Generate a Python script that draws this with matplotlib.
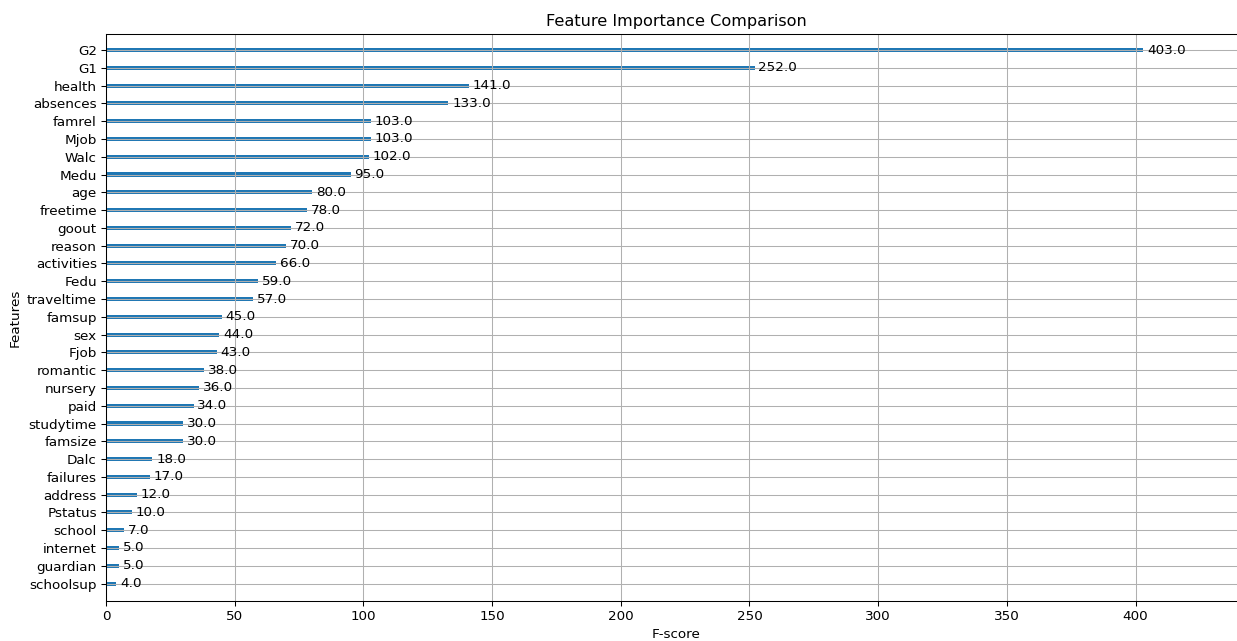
import matplotlib
matplotlib.use("Agg")
import matplotlib.pyplot as plt
import numpy as np

# Feature names and their F-scores (ascending order, bottom to top)
features = ["schoolsup", "guardian", "internet", "school", "Pstatus", "address",
            "failures", "Dalc", "famsize", "studytime", "paid", "nursery",
            "romantic", "Fjob", "sex", "famsup", "traveltime", "Fedu",
            "activities", "reason", "goout", "freetime", "age", "Medu",
            "Walc", "Mjob", "famrel", "absences", "health", "G1", "G2"]
scores = [4.0, 5.0, 5.0, 7.0, 10.0, 12.0, 17.0, 18.0, 30.0, 30.0, 34.0, 36.0,
          38.0, 43.0, 44.0, 45.0, 57.0, 59.0, 66.0, 70.0, 72.0, 78.0, 80.0, 95.0,
          102.0, 103.0, 103.0, 133.0, 141.0, 252.0, 403.0]

DPI = 94
W, H = 1237, 641
FS = 10.3
fig = plt.figure(figsize=(W / DPI, H / DPI), dpi=DPI)
ax = fig.add_axes([106 / W, 1 - 601 / H, (1247 - 106) / W, (601 - 34) / H])

ylocs = np.arange(len(features))
ax.barh(ylocs, scores, height=0.23, align="center", color="#1f77b4")
for x, y in zip(scores, ylocs):
    ax.text(x + 1.5, y, f"{x:.1f}", va="center", fontsize=FS)

ax.set_yticks(ylocs)
ax.set_yticklabels(features)
ax.tick_params(labelsize=FS)
ax.set_xlim(0, max(scores) * 1.1)
ax.set_ylim(-0.98, len(features) - 0.1)
ax.grid(True)
ax.set_title("Feature Importance Comparison", fontsize=12.4)
ax.set_xlabel("F-score", fontsize=FS)
ax.set_ylabel("Features", fontsize=FS)

fig.savefig("out.png", dpi=DPI)
